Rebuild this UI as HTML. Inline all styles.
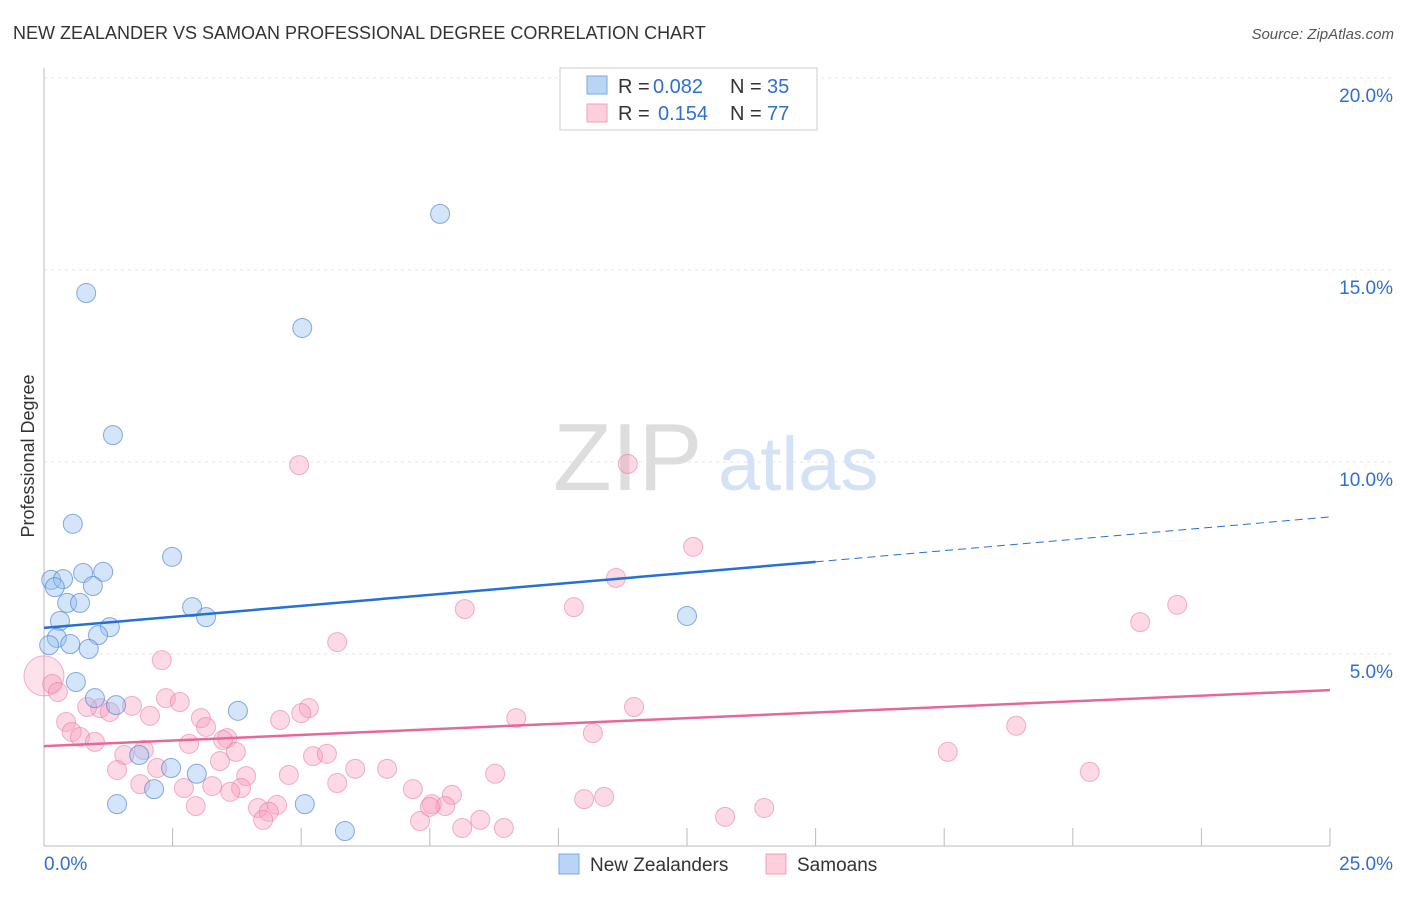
<!DOCTYPE html>
<html><head><meta charset="utf-8"><style>
body{margin:0;background:#fff;font-family:"Liberation Sans",sans-serif}
svg text{font-family:"Liberation Sans",sans-serif}
</style></head><body>
<svg id="c" width="1406" height="892">
<text x="13" y="39" font-size="18" fill="#333">NEW ZEALANDER VS SAMOAN PROFESSIONAL DEGREE CORRELATION CHART</text>
<text x="1394" y="39" font-size="15" fill="#555" font-style="italic" text-anchor="end">Source: ZipAtlas.com</text>
<text x="34" y="456" font-size="18" fill="#333" transform="rotate(-90 34 456)" text-anchor="middle">Professional Degree</text>
<g><text x="553" y="490" font-size="96" fill="#ddd" font-family="Liberation Serif,serif">ZIP</text><text x="718" y="490" font-size="76" fill="#d3e2f5">atlas</text></g>
<g id="grid"></g><g id="pts"></g><g id="lines"></g>
<g>
<rect x="560" y="68" width="257" height="62" fill="#fff" stroke="#ccc"/>
<rect x="587" y="76" width="20" height="18" fill="#b9d4f5" stroke="#7aa8e6"/>
<rect x="587" y="104" width="20" height="18" fill="#fbcfdc" stroke="#f0a0b8"/>
<text x="618" y="93" font-size="20" fill="#333">R =</text><text x="653" y="93" font-size="20" fill="#2f6fd1">0.082</text>
<text x="730" y="93" font-size="20" fill="#333">N =</text><text x="767" y="93" font-size="20" fill="#2f6fd1">35</text>
<text x="618" y="120" font-size="20" fill="#333">R =</text><text x="658" y="120" font-size="20" fill="#2f6fd1">0.154</text>
<text x="730" y="120" font-size="20" fill="#333">N =</text><text x="767" y="120" font-size="20" fill="#2f6fd1">77</text>
</g>
<g>
<rect x="559" y="854" width="20" height="20" fill="#b9d4f5" stroke="#7aa8e6"/>
<text x="590" y="871" font-size="19" fill="#333">New Zealanders</text>
<rect x="766" y="854" width="20" height="20" fill="#fbcfdc" stroke="#f0a0b8"/>
<text x="797" y="871" font-size="19" fill="#333">Samoans</text>
</g>
</svg>
<script>
const yTicks=[5,10,15,20];
const yTickLabels=["5.0%","10.0%","15.0%","20.0%"];
const xTickLabels=["0.0%","25.0%"];
const nzX=[7.70,0.82,5.02,1.34,0.56,2.49,0.76,1.15,0.14,0.37,0.21,0.95,0.45,0.70,2.88,3.15,12.50,0.31,1.28,1.05,0.25,0.10,0.51,0.87,0.62,0.99,1.40,3.77,1.85,2.47,2.97,2.14,1.42,5.07,5.85];
const nzY=[16.46,14.40,13.49,10.70,8.39,7.53,7.11,7.14,6.93,6.95,6.74,6.77,6.33,6.33,6.22,5.96,5.99,5.86,5.70,5.49,5.42,5.23,5.26,5.13,4.27,3.85,3.67,3.52,2.37,2.03,1.88,1.48,1.09,1.09,0.39];
const smX=[4.96,11.35,12.62,11.12,22.03,10.30,8.18,21.31,5.70,2.29,0.0,0.16,0.27,2.37,2.64,1.71,1.09,0.84,1.28,2.06,5.15,5.00,11.47,3.05,4.59,9.18,0.43,3.15,18.90,0.54,0.70,3.56,0.99,2.82,10.67,3.48,1.94,1.56,3.73,5.23,5.50,17.57,3.42,1.42,2.20,6.05,6.67,8.77,3.93,4.76,20.33,1.87,3.27,5.70,3.83,2.72,7.17,7.93,7.54,7.80,10.50,10.89,2.95,4.53,4.16,4.37,14.00,13.24,4.26,8.48,8.13,8.94,7.31,7.50,3.62];
const smY=[9.92,9.95,7.79,6.98,6.28,6.22,6.17,5.83,5.31,4.84,4.43,4.22,4.01,3.85,3.75,3.65,3.59,3.62,3.49,3.39,3.59,3.46,3.62,3.33,3.28,3.33,3.23,3.10,3.13,2.97,2.84,2.81,2.71,2.66,2.94,2.76,2.50,2.37,2.45,2.34,2.40,2.45,2.21,1.98,2.03,2.01,2.01,1.88,1.82,1.85,1.93,1.61,1.56,1.64,1.51,1.51,1.48,1.33,1.09,1.04,1.22,1.28,1.04,1.07,0.99,0.89,0.99,0.76,0.68,0.68,0.47,0.47,0.65,1.02,1.41];
const nzTrend=[5.68,7.40,8.57]; const nzTrendX=[0,15,25];
const smTrend=[2.60,4.06]; const smTrendX=[0,25];
const X=v=>44+v/25*1286, Y=v=>846-v/5*192;
const NS="http://www.w3.org/2000/svg";
function mk(p,t,a){const e=document.createElementNS(NS,t);for(const k in a)e.setAttribute(k,a[k]);p.appendChild(e);return e;}
const g=document.getElementById('grid');
yTicks.forEach((t,i)=>{
 const l=mk(g,'line',{x1:44,x2:1394,y1:Y(t),y2:Y(t),stroke:'#e4e4e4','stroke-dasharray':'3,4'});
 
 
 const tx=mk(g,'text',{x:1393,y:Y(t)+24,'font-size':19,fill:'#2f6fd1','text-anchor':'end'});
 tx.textContent=yTickLabels[i];
 
 
});
const ax=mk(g,'line',{x1:44,x2:1330,y1:846,y2:846,stroke:'#bbb'});


const ay=mk(g,'line',{x1:44,x2:44,y1:68,y2:846,stroke:'#bbb'});


for(let i=1;i<=10;i++){const t=mk(g,'line',{x1:X(i*2.5),x2:X(i*2.5),y1:828,y2:846,stroke:'#bbb'});
 
 }
xTickLabels.forEach((s,i)=>{const t=mk(g,'text',{x:i?1393:44,y:870,'font-size':19,fill:'#2f6fd1','text-anchor':i?'end':'start'});t.textContent=s;
 
 });
const P=document.getElementById('pts');
smX.forEach((x,i)=>{const big=i==10;const c=mk(P,'circle',{cx:X(x),cy:Y(smY[i]),r:big?20:9.5,fill:big?'rgba(247,160,188,0.3)':'rgba(247,160,188,0.4)',stroke:'rgba(232,120,155,0.55)','stroke-width':1});
 
 });
nzX.forEach((x,i)=>{const c=mk(P,'circle',{cx:X(x),cy:Y(nzY[i]),r:9.5,fill:'rgba(150,190,240,0.4)',stroke:'rgba(60,120,210,0.6)','stroke-width':1});
 
 });
const L=document.getElementById('lines');
const b1=mk(L,'line',{x1:X(nzTrendX[0]),y1:Y(nzTrend[0]),x2:X(nzTrendX[1]),y2:Y(nzTrend[1]),stroke:'#2470d6','stroke-width':2.5});


const b2=mk(L,'line',{x1:X(nzTrendX[1]),y1:Y(nzTrend[1]),x2:X(nzTrendX[2]),y2:Y(nzTrend[2]),stroke:'#2470d6','stroke-width':1,'stroke-dasharray':'8,5'});


const s1=mk(L,'line',{x1:X(smTrendX[0]),y1:Y(smTrend[0]),x2:X(smTrendX[1]),y2:Y(smTrend[1]),stroke:'#e8679a','stroke-width':2.5});


</script>
</body></html>
